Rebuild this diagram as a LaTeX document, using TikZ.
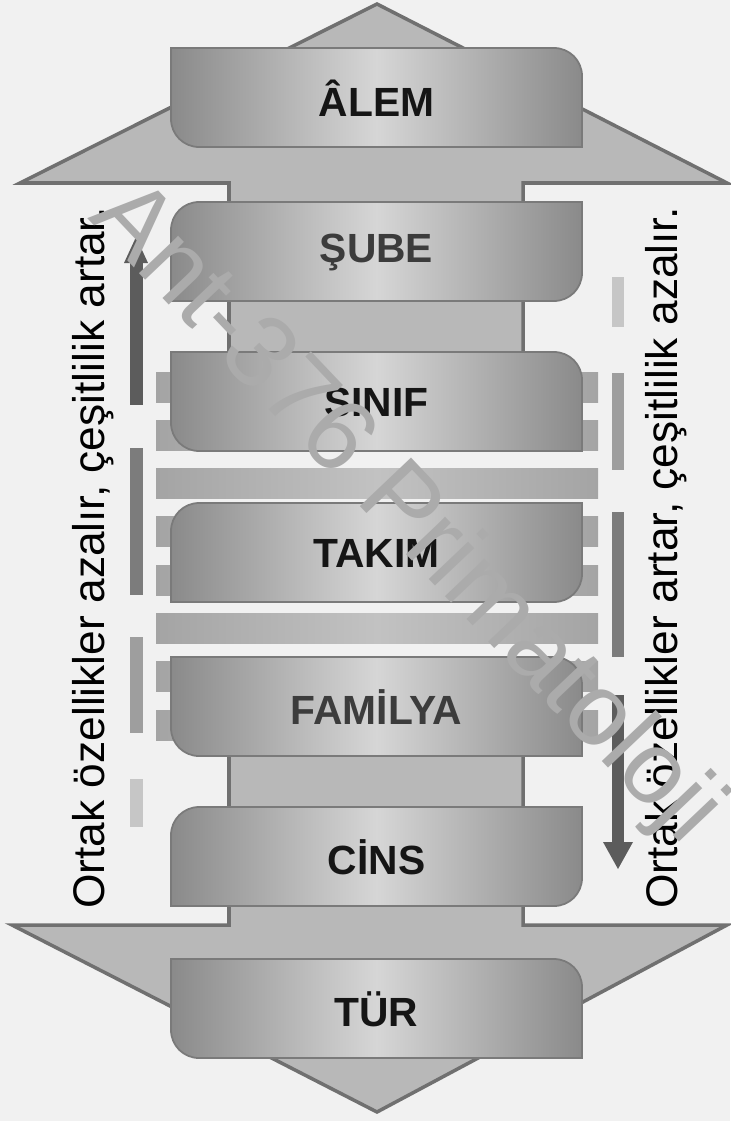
\documentclass[tikz,border=0pt]{standalone}
\usepackage{fontspec}
\setmainfont{Liberation Sans}
\definecolor{BgCol}{HTML}{F1F1F1}
\definecolor{ArrowFill}{HTML}{B8B8B8}
\definecolor{ArrowLine}{HTML}{707070}
\definecolor{BoxEdge}{HTML}{8A8A8A}
\definecolor{BoxMid}{HTML}{D6D6D6}
\definecolor{BoxLine}{HTML}{7A7A7A}
\definecolor{StripeEdge}{HTML}{A4A4A4}
\definecolor{StripeMid}{HTML}{C2C2C2}
\definecolor{LabelDark}{HTML}{151515}
\definecolor{LabelGrey}{HTML}{3C3C3C}
\definecolor{SegA}{HTML}{5C5C5C}
\definecolor{SegB}{HTML}{7C7C7C}
\definecolor{SegC}{HTML}{9E9E9E}
\definecolor{SegD}{HTML}{C6C6C6}
\definecolor{WaterCol}{HTML}{ABABAB}
\newcommand\lvlboxTRBL[4]{%
  \shadedraw[lvlbox] (171,#1) -- (554,#1) .. controls (569.5,#1) and (582,#1+12.5) .. (582,#1+28)
    -- (582,#1+99) -- (199,#1+99) .. controls (183.5,#1+99) and (171,#1+86.5) .. (171,#1+71) -- cycle;
  \node[lvltext,text=#4] (#2) at (376.5,#1+50) {#3};}
\newcommand\lvlboxTLBR[4]{%
  \shadedraw[lvlbox] (199,#1) -- (582,#1) -- (582,#1+71) .. controls (582,#1+86.5) and (569.5,#1+99) .. (554,#1+99)
    -- (171,#1+99) -- (171,#1+28) .. controls (171,#1+12.5) and (183.5,#1) .. (199,#1) -- cycle;
  \node[lvltext,text=#4] (#2) at (376.5,#1+50) {#3};}
\begin{document}
\begin{tikzpicture}[x=0.05cm,y=-0.05cm,
  arrowshape/.style={fill=ArrowFill,draw=ArrowLine,line width=5pt,line join=miter},
  lvlbox/.style={left color=BoxEdge,right color=BoxEdge,middle color=BoxMid,draw=BoxLine,line width=2.5pt},
  lvltext/.style={font=\bfseries\fontsize{58}{58}\selectfont,inner sep=0pt},
  stripe/.style={left color=StripeEdge,right color=StripeEdge,middle color=StripeMid},
  sidetext/.style={font=\fontsize{63}{63}\selectfont,text=black,rotate=90,anchor=base,inner sep=0pt},
  watermark/.style={font=\fontsize{146}{146}\selectfont,text=WaterCol,rotate=-46.5,inner sep=0pt}]
\useasboundingbox (0,0) rectangle (730,1121);
\fill[BgCol] (0,0) rectangle (730,1121);
% double-headed arrow
\path[arrowshape] (377,4) -- (727,183) -- (523,183) -- (523,925) -- (727,925) -- (377,1112)
  -- (12,925) -- (229,925) -- (229,183) -- (20,183) -- cycle;
% white gap block and horizontal stripes
\fill[BgCol] (224,445) rectangle (528,665);
\foreach \k in {0,...,7} {
  \shade[stripe] (156,{372+48.3*\k}) rectangle (598,{402+48.3*\k});
}
% level boxes
\lvlboxTRBL{48}{alem}{ÂLEM}{LabelDark}
\lvlboxTLBR{202}{sube}{ŞUBE}{LabelGrey}
\lvlboxTRBL{352}{sinif}{SINIF}{LabelDark}
\lvlboxTLBR{503}{takim}{TAKIM}{LabelDark}
\lvlboxTRBL{657}{familya}{FAMİLYA}{LabelGrey}
\lvlboxTLBR{807}{cins}{CİNS}{LabelDark}
\lvlboxTRBL{959}{tur}{TÜR}{LabelDark}
% left side arrow (up)
\fill[SegA] (129.5,262) rectangle (142.5,405);
\fill[SegA] (124,263) -- (136,237) -- (148,263) -- cycle;
\fill[SegB] (129.5,448) rectangle (142.5,595);
\fill[SegC] (129.5,637) rectangle (142.5,733);
\fill[SegD] (129.5,779) rectangle (142.5,827);
% right side arrow (down)
\fill[SegD] (612,277) rectangle (624,327);
\fill[SegC] (612,373) rectangle (624,470);
\fill[SegB] (612,512) rectangle (624,657);
\fill[SegA] (612,695) rectangle (624,843);
\fill[SegA] (603,842) -- (618,869) -- (633,842) -- cycle;
% side texts
\node[sidetext] (lefttext) at (104,558) {Ortak özellikler azalır, çeşitlilik artar.};
\node[sidetext] (righttext) at (677,558) {Ortak özellikler artar, çeşitlilik azalır.};
% watermark
\node[watermark] (wm) at (405,515) {Ant-376 Primatoloji};
\end{tikzpicture}
\end{document}
